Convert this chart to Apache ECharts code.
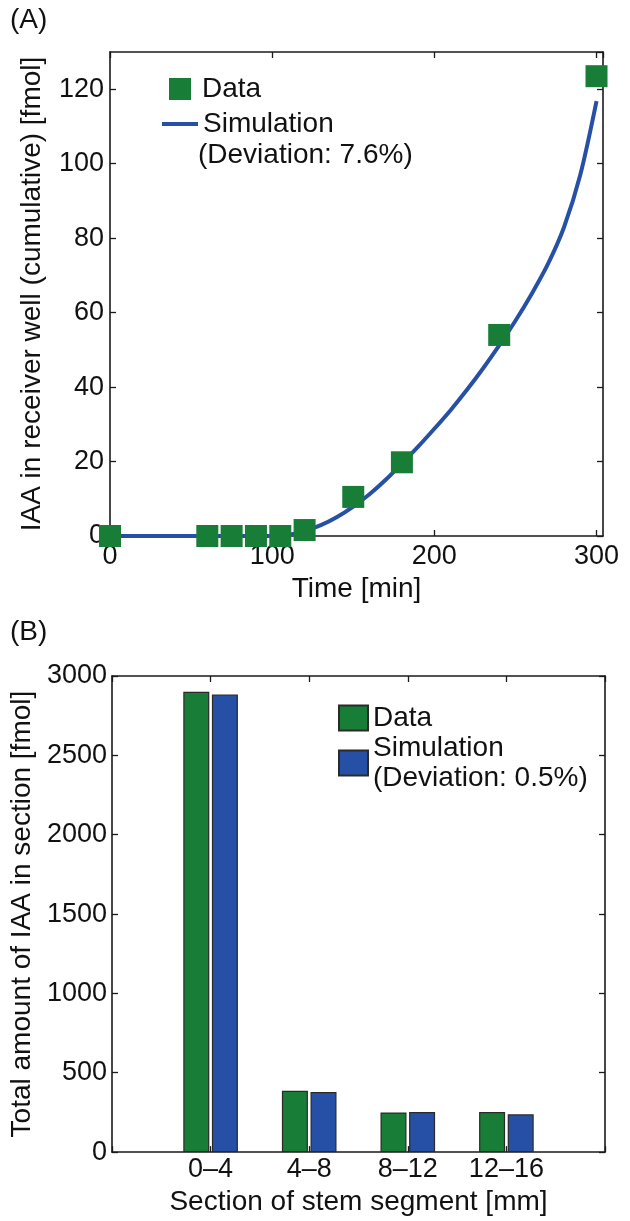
<!DOCTYPE html>
<html>
<head>
<meta charset="utf-8">
<script src="https://cdn.jsdelivr.net/npm/echarts@6/dist/echarts.min.js"></script>
<style>
  html, body { margin: 0; padding: 0; background: #fff; }
  #panelA { position: absolute; left: 0; top: 0; width: 630px; height: 610px; }
  #panelB { position: absolute; left: 0; top: 610px; width: 630px; height: 611px; }
</style>
</head>
<body>
<div id="panelA"></div>
<div id="panelB"></div>
<script>
// Panel A: cumulative IAA in the receiver well over time
const timeData = [0, 60, 75, 90, 105, 120, 150, 180, 240, 300];
const iaaData = [0, 0, 0, 0, 0, 1.6, 10.5, 19.8, 54, 123.5];
const simTime = [0, 10, 20, 30, 40, 50, 60, 70, 80, 90, 100, 105, 110, 120, 130, 140, 150, 160, 170,
                 180, 190, 200, 210, 220, 230, 240, 250, 260, 270, 280, 290, 300];
const simIaa = [0, 0, 0, 0, 0, 0, 0, 0, 0, 0, 0, 0.08, 0.3, 1.3, 2.9, 5.1, 7.9, 11.2, 15.1,
                19.5, 24, 28.8, 33.8, 39.2, 45, 51.2, 57.8, 65, 73, 83, 97, 116.8];
const timeTicks = [0, 100, 200, 300];
const iaaTicks = [0, 20, 40, 60, 80, 100, 120];

// Panel B: total IAA per stem section
const sections = ['0–4', '4–8', '8–12', '12–16'];
const sectionData = [2900, 386, 250, 253];
const sectionSim = [2884, 378, 252, 238];
const sectionTicks = [0, 500, 1000, 1500, 2000, 2500, 3000];

const FONT = 'Liberation Sans, Arial, Helvetica, sans-serif';
const INK = '#111';
const GREEN = '#187e37';
const BLUE = '#2650a5';
const FS = 27;   // tick labels
const FT = 28;   // axis titles and legends

function frameAxis(extra) {
  return Object.assign({
    axisLine: { show: true, onZero: false, lineStyle: { color: '#1a1a1a', width: 1.6 } },
    axisTick: { show: true, inside: true, length: 6, lineStyle: { color: '#1a1a1a', width: 1.3 } },
    splitLine: { show: false },
    axisLabel: { show: false }
  }, extra);
}
function labelStyle(extra) {
  return Object.assign({ show: true, color: INK, fontFamily: FONT, fontSize: FS }, extra);
}
const titleStyle = { color: INK, fontFamily: FONT, fontSize: FT };

// ---------- Panel A ----------
const chartA = echarts.init(document.getElementById('panelA'), null, { renderer: 'canvas' });
chartA.setOption({
  animation: false,
  textStyle: { fontFamily: FONT },
  grid: { left: 110, top: 52, width: 493, height: 484 },
  xAxis: [
    frameAxis({
      type: 'value', min: 0, max: 304, interval: 100, position: 'bottom',
      axisLabel: labelStyle({ margin: 7, showMaxLabel: false,
        formatter: v => (timeTicks.indexOf(v) >= 0 ? String(v) : '') }),
      name: 'Time [min]', nameLocation: 'middle', nameGap: 28,
      nameTextStyle: titleStyle
    }),
    frameAxis({ type: 'value', min: 0, max: 304, interval: 100, position: 'top' })
  ],
  yAxis: [
    frameAxis({
      type: 'value', min: 0, max: 130, interval: 20, position: 'left',
      axisLabel: labelStyle({ margin: 6, showMaxLabel: false,
        formatter: v => (iaaTicks.indexOf(v) >= 0 ? String(v) : '') }),
      name: 'IAA in receiver well (cumulative) [fmol]', nameLocation: 'middle', nameGap: 64,
      nameRotate: 90,
      nameTextStyle: titleStyle
    }),
    frameAxis({ type: 'value', min: 0, max: 130, interval: 20, position: 'right' })
  ],
  legend: [
    {
      data: [{ name: 'Data', icon: 'rect' }],
      left: 164, top: 70, itemWidth: 22, itemHeight: 22,
      textStyle: Object.assign({ padding: [0, 0, 0, 6] }, titleStyle),
      selectedMode: false
    },
    {
      data: [{ name: 'Simulation', icon: 'rect' }],
      left: 157, top: 105, itemWidth: 36, itemHeight: 4,
      textStyle: titleStyle,
      selectedMode: false
    }
  ],
  graphic: [
    { type: 'text', left: 10, top: 6, style: { text: '(A)', fill: INK, font: FT + 'px ' + FONT } },
    { type: 'text', left: 198, top: 141, style: { text: '(Deviation: 7.6%)', fill: INK, font: FT + 'px ' + FONT } }
  ],
  series: [
    {
      name: 'Simulation', type: 'line', xAxisIndex: 0, yAxisIndex: 0,
      data: simTime.map((t, i) => [t, simIaa[i]]),
      symbol: 'none', showSymbol: false, smooth: 0.3, z: 2,
      lineStyle: { color: BLUE, width: 4 }, itemStyle: { color: BLUE }
    },
    {
      name: 'Data', type: 'scatter', xAxisIndex: 0, yAxisIndex: 0,
      data: timeData.map((t, i) => [t, iaaData[i]]),
      symbol: 'rect', symbolSize: 22, z: 3,
      itemStyle: { color: GREEN, opacity: 1 }
    }
  ]
});

// ---------- Panel B ----------
const chartB = echarts.init(document.getElementById('panelB'), null, { renderer: 'canvas' });
const barEdge = { borderColor: '#2a2a2a', borderWidth: 1.2 };
chartB.setOption({
  animation: false,
  textStyle: { fontFamily: FONT },
  grid: { left: 112, top: 66, width: 493, height: 486 },
  xAxis: [
    frameAxis({
      type: 'value', min: 0, max: 5, interval: 1, position: 'bottom',
      axisLabel: labelStyle({ margin: 4,
        formatter: v => (v >= 1 && v <= sections.length ? sections[v - 1] : '') }),
      name: 'Section of stem segment [mm]', nameLocation: 'middle', nameGap: 28,
      nameTextStyle: titleStyle
    }),
    frameAxis({ type: 'value', min: 0, max: 5, interval: 1, position: 'top' })
  ],
  yAxis: [
    frameAxis({
      type: 'value', min: 0, max: 3000, interval: 500, position: 'left',
      axisLabel: labelStyle({ margin: 5,
        formatter: v => (sectionTicks.indexOf(v) >= 0 ? String(v) : '') }),
      name: 'Total amount of IAA in section [fmol]', nameLocation: 'middle', nameGap: 70,
      nameRotate: 90,
      nameTextStyle: titleStyle
    }),
    frameAxis({ type: 'value', min: 0, max: 3000, interval: 500, position: 'right' })
  ],
  legend: {
    data: [{ name: 'Data', icon: 'rect' }, { name: 'Simulation', icon: 'rect' }],
    orient: 'vertical', left: 333, top: 88, itemGap: 0,
    itemWidth: 29, itemHeight: 25,
    formatter: name => (name === 'Simulation' ? 'Simulation\n(Deviation: 0.5%)' : name),
    textStyle: Object.assign({ lineHeight: 30 }, titleStyle),
    selectedMode: false
  },
  graphic: [
    { type: 'text', left: 10, top: 8, style: { text: '(B)', fill: INK, font: FT + 'px ' + FONT } }
  ],
  series: [
    {
      name: 'Data', type: 'bar', xAxisIndex: 0, yAxisIndex: 0,
      data: sectionData.map((v, i) => [i + 1, v]),
      barWidth: 26, barGap: '10%',
      itemStyle: Object.assign({ color: GREEN }, barEdge)
    },
    {
      name: 'Simulation', type: 'bar', xAxisIndex: 0, yAxisIndex: 0,
      data: sectionSim.map((v, i) => [i + 1, v]),
      barWidth: 26, barGap: '10%',
      itemStyle: Object.assign({ color: BLUE }, barEdge)
    }
  ]
});
</script>
</body>
</html>
